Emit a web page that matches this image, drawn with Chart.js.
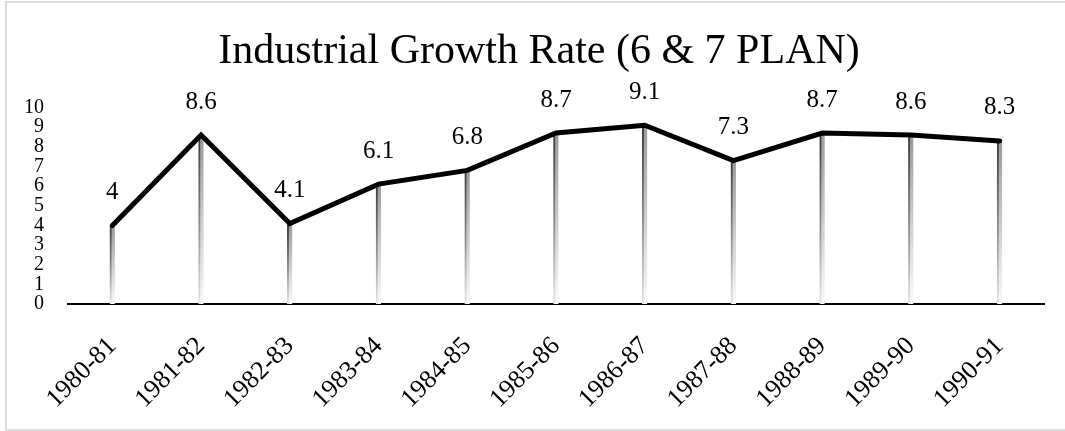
<!DOCTYPE html>
<html>
<head>
<meta charset="utf-8">
<script src="https://cdn.jsdelivr.net/npm/chart.js@4/dist/chart.umd.min.js"></script>
<style>
  html, body { margin: 0; padding: 0; background: #fff; overflow: hidden; }
  #wrap { position: relative; width: 1065px; height: 431px; overflow: hidden; }
  #frame { position: absolute; left: 5px; top: 1px; width: 1070px; height: 426px; border: 2px solid #dcdcdc; pointer-events: none; }
  canvas { position: absolute; left: 0; top: 0; }
</style>
</head>
<body>
<div id="wrap">
  <canvas id="c" width="1065" height="431"></canvas>
  <div id="frame"></div>
</div>
<script>
const titleText = 'Industrial Growth Rate (6 & 7 PLAN)';
const categories = ['1980-81','1981-82','1982-83','1983-84','1984-85','1985-86','1986-87','1987-88','1988-89','1989-90','1990-91'];
const growthRate = [4, 8.6, 4.1, 6.1, 6.8, 8.7, 9.1, 7.3, 8.7, 8.6, 8.3];
const yTicks = [0,1,2,3,4,5,6,7,8,9,10];

const FONT = "'Liberation Serif', 'Times New Roman', serif";
Chart.defaults.font.family = FONT;
Chart.defaults.color = '#000';

const dataLabelPlugin = {
  id: 'dataLabels',
  afterDatasetsDraw(chart) {
    const meta = chart.getDatasetMeta(0);
    const ctx = chart.ctx;
    ctx.save();
    ctx.font = '25px ' + FONT;
    ctx.fillStyle = '#000';
    ctx.textAlign = 'center';
    ctx.textBaseline = 'middle';
    meta.data.forEach((pt, i) => {
      ctx.fillText(String(growthRate[i]), pt.x, pt.y - 33);
    });
    ctx.restore();
  }
};

function vGrad(context, c0, c1, c2) {
  const chart = context.chart;
  if (!chart.chartArea) return c1;
  const ys = chart.scales.y;
  const top = ys.getPixelForValue(context.raw);
  const bottom = ys.getPixelForValue(0);
  const g = chart.ctx.createLinearGradient(0, top, 0, bottom);
  g.addColorStop(0, c0);
  g.addColorStop(0.55, c1);
  g.addColorStop(1, c2);
  return g;
}

new Chart(document.getElementById('c'), {
  data: {
    labels: categories,
    datasets: [
      {
        type: 'line',
        data: growthRate,
        borderColor: '#000',
        borderWidth: 5,
        pointRadius: 0,
        tension: 0,
        borderCapStyle: 'round',
        borderJoinStyle: 'miter',
        order: 0
      },
      {
        type: 'bar',
        data: growthRate,
        backgroundColor: (c) => vGrad(c, '#9a9a9a', '#d0d0d0', '#fafafa'),
        borderColor: (c) => vGrad(c, '#3a3a3a', '#909090', '#e6e6e6'),
        borderWidth: { left: 2, right: 0, top: 0, bottom: 0 },
        borderSkipped: false,
        barThickness: 5,
        order: 1
      }
    ]
  },
  options: {
    responsive: false,
    animation: false,
    layout: { padding: { left: 13, right: 0, top: 0, bottom: 0 } },
    plugins: {
      legend: { display: false },
      tooltip: { enabled: false },
      title: {
        display: true,
        text: titleText,
        color: '#000',
        font: { size: 42, weight: 'normal', family: FONT },
        padding: { top: 27, bottom: 30.1 }
      }
    },
    scales: {
      x: {
        offset: true,
        grid: { display: false, drawTicks: false },
        border: { display: true, color: '#000', width: 2 },
        ticks: {
          autoSkip: false,
          maxRotation: 45,
          minRotation: 45,
          padding: 27,
          color: '#000',
          font: { size: 26, family: FONT }
        },
        afterFit(scale) { scale.height = 127; }
      },
      y: {
        min: 0,
        max: 10,
        grid: { display: false, drawTicks: false },
        border: { display: false },
        afterBuildTicks(scale) { scale.ticks = yTicks.map(v => ({ value: v })); },
        ticks: {
          autoSkip: false,
          stepSize: 1,
          padding: 24,
          color: '#000',
          font: { size: 20, family: FONT }
        },
        afterFit(scale) { scale.width = 55; }
      },
      yRightSpace: {
        position: 'right',
        min: 0,
        max: 10,
        grid: { display: false, drawTicks: false },
        border: { display: false },
        ticks: { display: false },
        afterFit(scale) { scale.width = 21; }
      }
    }
  },
  plugins: [dataLabelPlugin]
});
</script>
</body>
</html>
